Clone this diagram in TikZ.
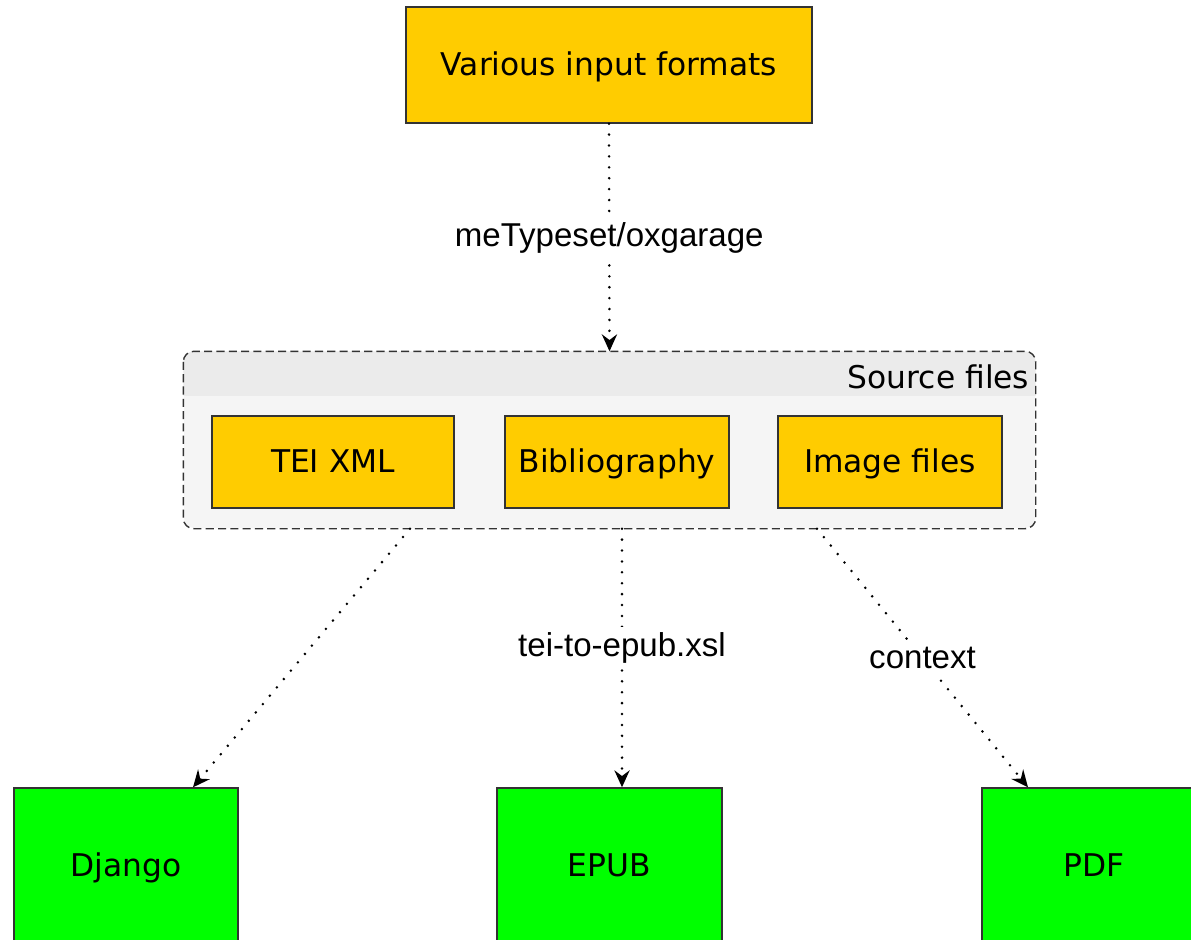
\documentclass[tikz,border=0pt]{standalone}
\usepackage{fontspec}
\setmainfont{DejaVu Sans}
\newfontfamily\edgefont{Liberation Sans}
\usetikzlibrary{arrows.meta}
\definecolor{srcyellow}{HTML}{FFCC00}
\definecolor{outgreen}{HTML}{00FF00}
\definecolor{grpfill}{HTML}{F5F5F5}
\definecolor{grphead}{HTML}{EBEBEB}
\definecolor{bordergray}{HTML}{333333}

\begin{document}
\begin{tikzpicture}[x=0.01cm,y=-0.01cm,
    box/.style={rectangle,draw=bordergray,fill=srcyellow,line width=0.4pt,inner sep=0pt,text height=6.5pt,text depth=0.6pt,font=\fontsize{8.9}{10}\selectfont},
    target/.style={box,fill=outgreen},
    flow/.style={line width=0.8pt,dash pattern=on 0pt off 3.1pt,line cap=round,-{Stealth[length=4.8pt,width=4.3pt,inset=1.6pt]}},
    lbl/.style={fill=white,inner sep=1.5pt,font=\edgefont\fontsize{9.4}{11}\selectfont}]
    \useasboundingbox[fill=white] (0,0) rectangle (1191,939);
    % input
    \node[box,minimum width=406*0.01cm,minimum height=116*0.01cm] (input) at (609,65) {Various input formats};
    % source files group
    \node[rectangle,fill=grpfill,rounded corners=3pt,minimum width=851*0.01cm,minimum height=176*0.01cm] (src) at (609.5,440) {};
    \begin{scope}
        \clip[rounded corners=3pt] (src.north west) rectangle (src.south east);
        \fill[grphead] (src.north west) rectangle (src.east |- 0,396);
    \end{scope}
    \draw[bordergray,line width=0.4pt,dash pattern=on 2.3pt off 1.2pt,rounded corners=3pt] (src.north west) rectangle (src.south east);
    \node[anchor=east,inner sep=0pt,font=\fontsize{8.9}{10}\selectfont] (srctitle) at (1030,377) {Source files};
    \node[box,minimum width=242*0.01cm,minimum height=92*0.01cm] (tei) at (333,462) {TEI XML};
    \node[box,minimum width=224*0.01cm,minimum height=92*0.01cm] (bib) at (617,462) {Bibliography};
    \node[box,minimum width=224*0.01cm,minimum height=92*0.01cm] (img) at (890,462) {Image files};
    % outputs
    \node[target,minimum width=224*0.01cm,minimum height=156*0.01cm] (django) at (126,866) {Django};
    \node[target,minimum width=225*0.01cm,minimum height=156*0.01cm] (epub) at (609.5,866) {EPUB};
    \node[target,minimum width=224*0.01cm,minimum height=156*0.01cm] (pdf) at (1094,866) {PDF};
    % conversions
    \draw[flow] (input.south) -- (src.north) node[lbl,pos=0.5] {meTypeset/oxgarage};
    \draw[flow] (src.south -| 410,0) -- (django.north -| 193,0);
    \draw[flow] (src.south -| 622,0) -- (epub.north -| 622,0) node[lbl,pos=0.46] {tei-to-epub.xsl};
    \draw[flow] (src.south -| 817,0) -- (pdf.north -| 1028,0) node[lbl,pos=0.5] {context};
\end{tikzpicture}
\end{document}
